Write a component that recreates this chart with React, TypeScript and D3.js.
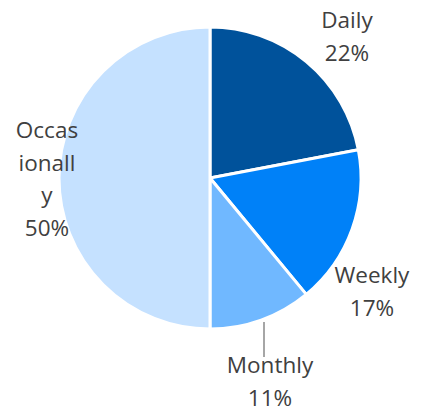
import React from "react";
import * as d3 from "d3";

const categories = ["Daily", "Weekly", "Monthly", "Occasionally"];
const values = [22, 17, 11, 50];
const labelLines = [["Daily"], ["Weekly"], ["Monthly"], ["Occas", "ionall", "y"]];

const colors = ["#00529b", "#0081f8", "#70b8ff", "#c5e1ff"];
// label anchor offsets relative to pie centre (first line baseline)
const labelLayout = [
  { dx: 137, dy: -150 },
  { dx: 162, dy: 105 },
  { dx: 60, dy: 195 },
  { dx: -163, dy: -40 },
];

const W = 424, H = 411;
const cx = 210, cy = 178, R = 151;
const lineH = 32.5;

export default function App() {
  const pie = d3.pie<number>().sort(null).value((d) => d)(values);
  const arc = d3.arc<d3.PieArcDatum<number>>().innerRadius(0).outerRadius(R);
  const total = d3.sum(values);
  const fmt = (v: number) => `${Math.round((v / total) * 100)}%`;

  // leader line for Monthly
  const lx = cx + labelLayout[2].dx - 6;
  const edgeY = cy + Math.sqrt(R * R - (lx - cx) * (lx - cx));

  return (
    <svg width={W} height={H} style={{ position: "absolute", left: 0, top: 0, background: "#fff" }}
      fontFamily="'Open Sans', sans-serif">
      <g transform={`translate(${cx},${cy})`}>
        {pie.map((p, i) => (
          <path key={categories[i]} d={arc(p) || ""} fill={colors[i]} stroke="#fff" strokeWidth={3} strokeLinejoin="round" />
        ))}
      </g>
      <line x1={lx} x2={lx} y1={edgeY + 3} y2={cy + labelLayout[2].dy - 16} stroke="#a6a6a6" strokeWidth={2} />
      {pie.map((p, i) => {
        const x = cx + labelLayout[i].dx;
        const y = cy + labelLayout[i].dy;
        const lines = [...labelLines[i], fmt(p.value)];
        return (
          <text key={i} x={x} y={y} textAnchor="middle" fontSize={22.5} fill="#404040">
            {lines.map((t, j) => (
              <tspan key={j} x={x} y={y + j * lineH}>{t}</tspan>
            ))}
          </text>
        );
      })}
    </svg>
  );
}
